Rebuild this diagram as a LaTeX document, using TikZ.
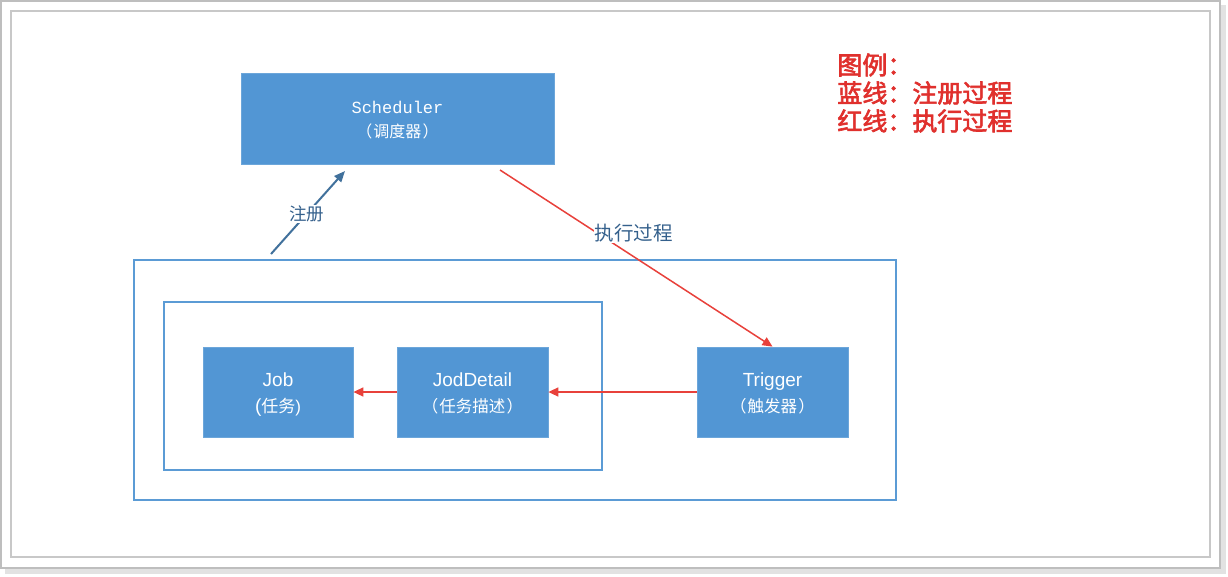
\documentclass[tikz,border=0pt]{standalone}
\usepackage{fontspec}
\setmainfont{Liberation Sans}
\newfontfamily\cjk{Noto Sans CJK SC}
\newfontfamily\cjkbold[FakeBold=2.5]{Noto Sans CJK SC}
\newfontfamily\mono{Liberation Mono}
\usetikzlibrary{arrows.meta}

\definecolor{boxblue}{RGB}{82,150,212}
\definecolor{grpblue}{RGB}{91,155,213}
\definecolor{regblue}{RGB}{65,113,156}
\definecolor{labblue}{RGB}{52,96,140}
\definecolor{exered}{RGB}{232,65,59}
\definecolor{legred}{RGB}{224,48,45}
\definecolor{framegray}{RGB}{190,190,190}
\definecolor{shadegray}{RGB}{226,226,226}

% full-width brackets and line struts
\newcommand\lpar{\makebox[1.15em][c]{（}}
\newcommand\rpar{\makebox[1.15em][c]{）}}
\newcommand\tstrut{\rule[-5pt]{0pt}{25pt}}
\newcommand\sstrut{\rule[-5.5pt]{0pt}{24pt}}

\tikzset{every picture/.style={line width=0.75pt}}
\tikzset{
  taskbox/.style={fill=boxblue, draw=boxblue!85!white, line width=0.75, text=white, align=center, inner sep=0pt, minimum height=90pt, font=\fontsize{19}{26}\selectfont},
  groupbox/.style={draw=grpblue, line width=1.5, inner sep=0pt},
  redarrow/.style={draw=exered, line width=1.5, -{Triangle[length=10pt,width=9pt]}},
  bluearrow/.style={draw=regblue, line width=2, -{Triangle[length=11pt,width=9pt]}},
}

\begin{document}
\begin{tikzpicture}[x=1pt,y=1pt,yscale=-1,xscale=1]
\useasboundingbox (0,0) rectangle (1228,576);

%Shape: Frame
\fill [shadegray] (5,5) rectangle (1226,574) ;
\draw [framegray, fill=white, line width=2] (1,1) rectangle (1220,568) ;
\draw [framegray!85!white, line width=1.5] (11,11) rectangle (1210,557) ;

%Shape: Groups
\node (outer) [groupbox, minimum width=762pt, minimum height=240pt] at (515,380) {};
\node (inner) [groupbox, minimum width=438pt, minimum height=168pt] at (383,386) {};

% Boxes
\node (sched) [taskbox, minimum width=313pt, minimum height=91pt, font=\fontsize{17}{24}\selectfont] at (397.5,118.5) {\sstrut\mono Scheduler\\ \sstrut\fontsize{16}{24}\selectfont\cjk\lpar 调度器\rpar};
\node (job) [taskbox, minimum width=150pt] at (278,392) {\tstrut Job\\ \tstrut(\fontsize{17}{26}\selectfont\cjk 任务\rmfamily)};
\node (detail) [taskbox, minimum width=151pt] at (472.5,392) {\tstrut JodDetail\\ \tstrut\fontsize{16.5}{26}\selectfont\cjk\lpar 任务描述\rpar};
\node (trig) [taskbox, minimum width=151pt] at (772.5,392) {\tstrut Trigger\\ \tstrut\fontsize{16.5}{26}\selectfont\cjk\lpar 触发器\rpar};

%Straight Lines: register
\coordinate (regA) at (271,254);
\coordinate (regB) at (345,171);
\draw [bluearrow] (regA) -- (regB) node (reglab) [pos=0.48, fill=white, inner sep=1pt, text=labblue, font=\fontsize{17.5}{20}\selectfont\cjk] {注册};

%Straight Lines: execute
\coordinate (exeA) at (500,170);
\draw [redarrow] (exeA) -- (trig.north) node (exelab) [pos=0.356, anchor=west, xshift=-4pt, fill=white, inner sep=1pt, text=labblue, font=\fontsize{19.5}{22}\selectfont\cjk] {执行过程};
\draw [redarrow] (trig.west) -- (detail.east) ;
\draw [redarrow] (detail.west) -- (job.east) ;

% Text Node
\node (legend) [anchor=west, text=legred, align=left, inner sep=0pt, font=\fontsize{25}{28}\selectfont\cjkbold] at (837,93) {图例：\\ 蓝线：注册过程\\ 红线：执行过程};

\end{tikzpicture}
\end{document}
